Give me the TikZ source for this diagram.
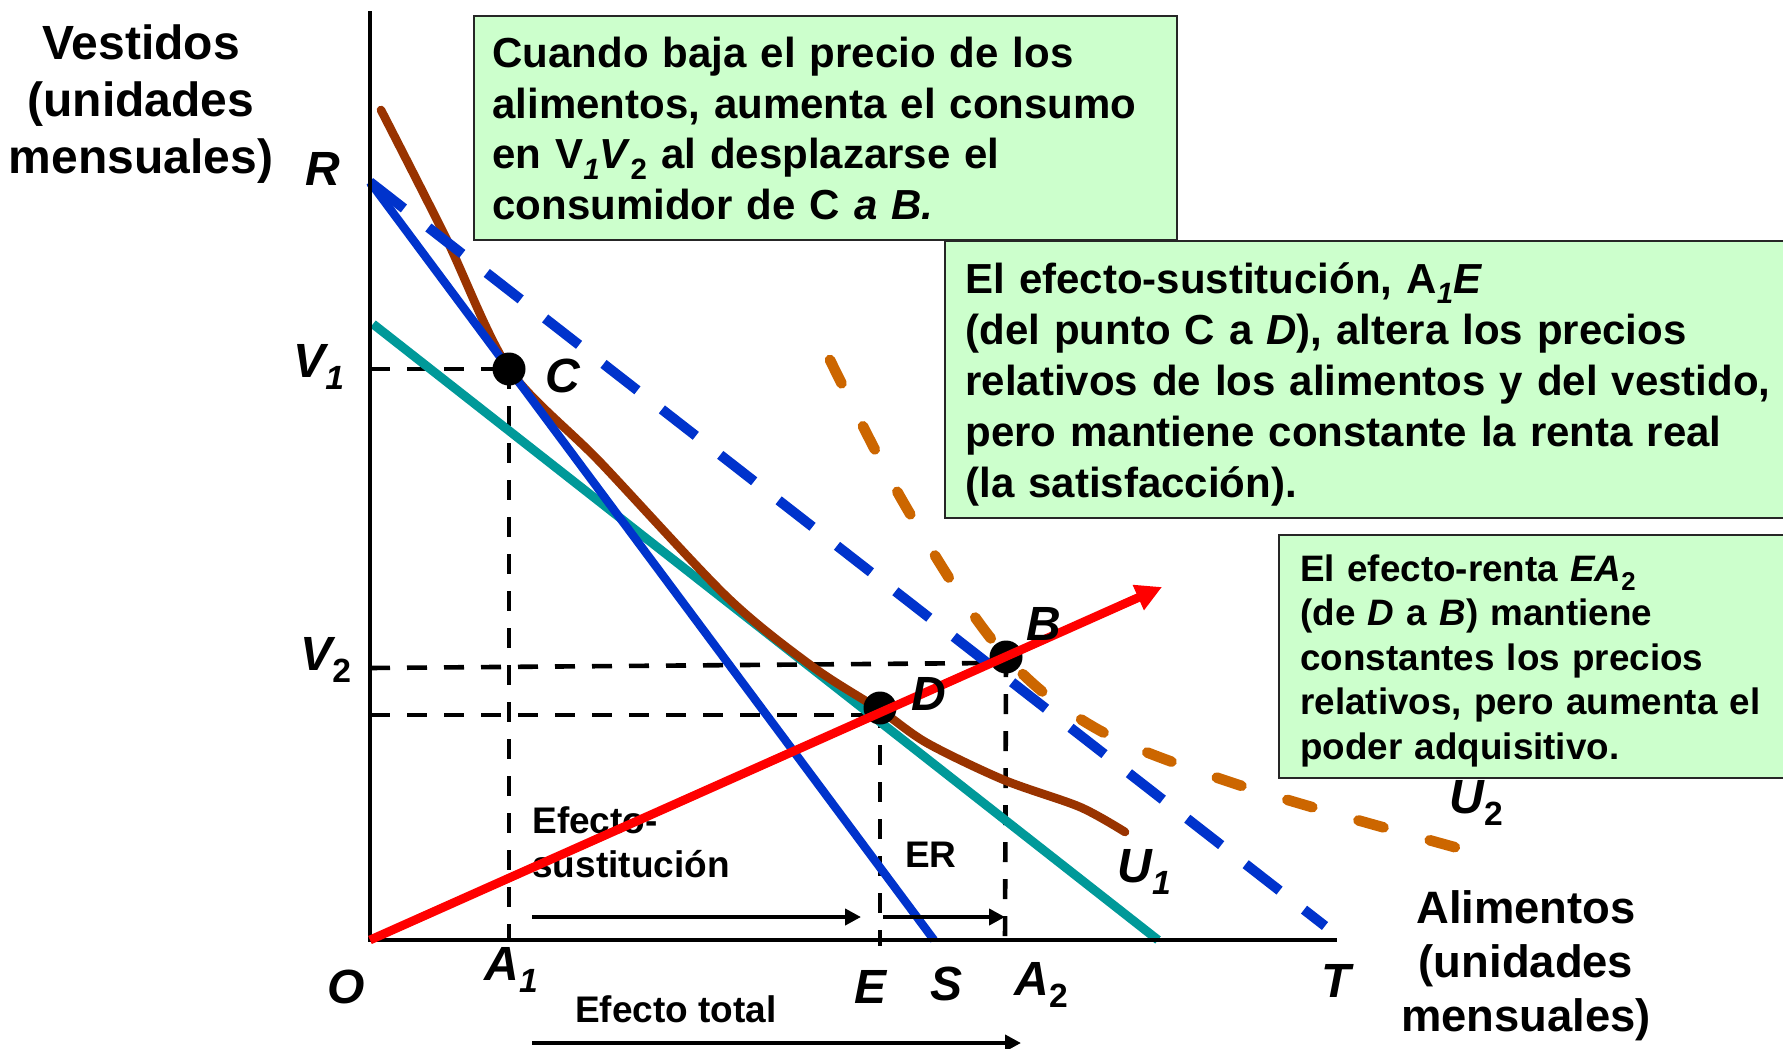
\documentclass[tikz,border=0pt]{standalone}
\usepackage{fontspec}
\setmainfont{Liberation Sans}
\usetikzlibrary{arrows.meta}
\definecolor{bluel}{RGB}{0,51,204}
\definecolor{tealc}{RGB}{0,153,153}
\definecolor{brownc}{RGB}{153,51,0}
\definecolor{orangec}{RGB}{204,102,0}
\definecolor{boxgreen}{RGB}{204,255,204}
\newcommand{\lsub}[1]{\raisebox{-0.25em}{\scalebox{0.7}{#1}}}
\begin{document}
\begin{tikzpicture}[x=0.5pt,y=-0.5pt,
  box/.style={draw=black!85, line width=1.2pt, fill=boxgreen, inner sep=0, anchor=north west},
  boxtext/.style={anchor=base west, inner sep=0, align=left, text width=#1},
  bigfont/.style={font=\fontsize{21}{25.5}\selectfont\bfseries},
  smallbox/.style={font=\fontsize{18.4}{22.3}\selectfont\bfseries},
  axislab/.style={anchor=base, inner sep=0, align=center, text width=160pt},
  lbl/.style={font=\fontsize{24}{24}\selectfont\bfseries\itshape, inner sep=0},
  note/.style={font=\fontsize{18.5}{22}\selectfont\bfseries, inner sep=0},
  axis/.style={line width=2.2pt, black},
  guide/.style={line width=2.3pt, black, dash pattern=on 10pt off 8.5pt},
  dot/.style={circle, fill=black, minimum size=16.5pt, inner sep=0},
  effarrow/.style={line width=2pt, black, -{Triangle[length=8pt,width=8pt]}}
]
\useasboundingbox (0,0) rectangle (1783,1049);
\clip (0,0) rectangle (1783,1049);

% coordinates
\coordinate (O) at (370,940);
\coordinate (Ytop) at (370,11);
\coordinate (Xend) at (1337,940);
\coordinate (R) at (370,182);
\coordinate (S) at (934,940);
\coordinate (Tend) at (1325,926);
\coordinate (tealA) at (373,324);
\coordinate (tealB) at (1158,940);
\coordinate (redtip) at (1162,587);
\coordinate (Cp) at (509,369);
\coordinate (Dp) at (880,708);
\coordinate (Bp) at (1006,657);
\coordinate (V1t) at (370,369);
\coordinate (V2t) at (370,668);
\coordinate (V2e) at (992,663);
\coordinate (Dlt) at (370,715);
\coordinate (Dle) at (872,715);
\coordinate (A1b) at (509,942);
\coordinate (Eb) at (880,946);
\coordinate (A2b) at (1005,942);
\coordinate (es1) at (532,917);
\coordinate (es2) at (861,917);
\coordinate (er1) at (883,917);
\coordinate (er2) at (1005,917);
\coordinate (et1) at (532,1043);
\coordinate (et2) at (1021,1043);

% boxes
\node[box, minimum width=351.5pt, minimum height=112pt] (box1) at (473,15) {};
\node[box, minimum width=440pt, minimum height=138.5pt] (box2) at (944,240) {};
\node[box, minimum width=270pt, minimum height=121.5pt] (box3) at (1278,534) {};

\node[boxtext=345pt, bigfont] (t1) at (492,67) {Cuando baja el precio de los\\
alimentos, aumenta el consumo\\
en V\lsub{\itshape 1}\textit{V}\lsub{2} al desplazarse el\\
consumidor de C \textit{a B.}};

\node[boxtext=410pt, bigfont] (t2) at (965,293) {El efecto-sustitución, A\lsub{\itshape 1}\textit{E}\\
(del punto C a \textit{D}), altera los precios\\
relativos de los alimentos y del vestido,\\
pero mantiene constante la renta real\\
(la satisfacción).};

\node[boxtext=240pt, smallbox] (t3) at (1300,581) {El efecto-renta \textit{EA}\lsub{2}\\
(de \textit{D} a \textit{B}) mantiene\\
constantes los precios\\
relativos, pero aumenta el\\
poder adquisitivo.};

% axis titles
\node[axislab, font=\fontsize{24}{28.7}\selectfont\bfseries] (ylab) at (141,59) {Vestidos\\(unidades\\mensuales)};
\node[axislab, font=\fontsize{22.7}{27}\selectfont\bfseries] (xlab) at (1526,923) {Alimentos\\(unidades\\mensuales)};

% guide lines
\draw[guide] (V1t) -- (Cp);
\draw[guide] (Cp) -- (A1b);
\draw[guide] (V2t) -- (V2e);
\draw[guide] (Dlt) -- (Dle);
\draw[guide] (Dp) -- (Eb);
\draw[guide] (Bp) -- (A2b);

% curves and lines
\draw[tealc, line width=4.5pt] (tealA) -- (tealB);
\draw[brownc, line width=4.3pt, line cap=round] plot[smooth, tension=0.5] coordinates {(381,110) (446,238) (509,369) (600,462) (727,597) (813,667) (880,710) (927,743) (1004,780) (1080,807) (1125,832)};
\draw[bluel, line width=4.2pt] (R) -- (S);
\draw[bluel, line width=5pt, dash pattern=on 21.5pt off 15.5pt] (R) -- (Tend);
\draw[orangec, line width=5.3pt, line cap=round, dash pattern=on 13pt off 24pt] plot[smooth, tension=0.55] coordinates {(830,360) (898,493) (977,620) (1038,688) (1114,738) (1218,778) (1322,810) (1465,850)};

% axes
\draw[axis] (Ytop) -- (O) -- (Xend);

% effect arrows and labels
\draw[effarrow] (es1) -- (es2);
\draw[effarrow] (er1) -- (er2);
\draw[effarrow] (et1) -- (et2);
\node[note, anchor=base west, align=left] (efs) at (532,877) {Efecto-\\sustitución};
\node[note, anchor=base] (erl) at (931,867) {ER};
\node[note, anchor=base] (etl) at (676,1022) {Efecto total};

% dots
\node[dot] (C) at (Cp) {};
\node[dot] (D) at (Dp) {};
\node[dot] (B) at (Bp) {};

% red line
\draw[red, line width=4.4pt, -{Triangle[length=13pt,width=13pt]}] (O) -- (redtip);

% letter labels
\node[lbl, anchor=base] (lR) at (323,185) {R};
\node[lbl, anchor=base] (lO) at (346,1003) {O};
\node[lbl, anchor=base] (lE) at (870,1003) {E};
\node[lbl, anchor=base] (lS) at (946,1000) {S};
\node[lbl, anchor=base] (lT) at (1336,997) {T};
\node[lbl, anchor=base] (lC) at (563,392) {C};
\node[lbl, anchor=base] (lB) at (1044,640) {B};
\node[lbl, anchor=base] (lD) at (929,710) {D};
\node[lbl, anchor=base west] (lV1) at (293,377) {V\lsub{1}};
\node[lbl, anchor=base west] (lV2) at (300,670) {V\lsub{\upshape 2}};
\node[lbl, anchor=base west] (lA1) at (484,980) {A\lsub{1}};
\node[lbl, anchor=base west] (lA2) at (1014,995) {A\lsub{\upshape 2}};
\node[lbl, anchor=base west] (lU1) at (1117,882) {U\lsub{1}};
\node[lbl, anchor=base west] (lU2) at (1449,813) {U\lsub{\upshape 2}};
\end{tikzpicture}
\end{document}
